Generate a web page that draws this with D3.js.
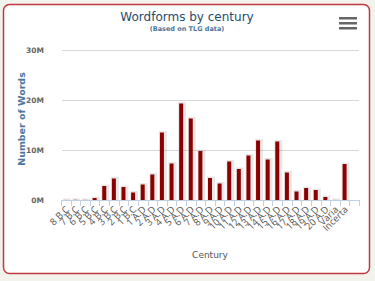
<!DOCTYPE html>
<html lang="en">
<head>
<meta charset="utf-8">
<title>Wordforms by century</title>
<script src="https://d3js.org/d3.v7.min.js"></script>
<style>
  html, body { margin: 0; padding: 0; background: #f3f3ee; }
  svg { display: block; font-family: "DejaVu Sans", sans-serif; }
</style>
</head>
<body>
<script>
// categories and values (millions of word forms)
var centuries = ["8 B.C", "7 B.C", "6 B.C", "5 B.C", "4 B.C", "3 B.C", "2 B.C", "1 B.C",
  "1 A.D", "2 A.D", "3 A.D", "4 A.D", "5 A.D", "6 A.D", "7 A.D", "8 A.D", "9 A.D", "10 A.D",
  "11 A.D", "12 A.D", "13 A.D", "14 A.D", "15 A.D", "16 A.D", "17 A.D", "18 A.D", "19 A.D",
  "20 A.D", "Varia", "Incerta"];
var words = [0.01, 0.04, 0.02, 0.4, 2.8, 4.3, 2.6, 1.5,
  3.1, 5.1, 13.5, 7.3, 19.3, 16.3, 9.8, 4.4, 3.3, 7.7,
  6.2, 8.9, 11.9, 8.1, 11.7, 5.5, 1.7, 2.4, 2.0,
  0.6, 0.01, 7.2];
var yTicks = [0, 10, 20, 30];

var W = 375, H = 281;
var pLeft = 61, pRight = 359, pTop = 50, pBottom = 200;
var step = (pRight - pLeft) / (centuries.length + 1); // one empty slot at the end

var svg = d3.select("body").append("svg").attr("width", W).attr("height", H);

// card
svg.append("rect")
  .attr("x", 3.5).attr("y", 4.5).attr("width", 366).attr("height", 269)
  .attr("rx", 6).attr("fill", "#fff").attr("stroke", "#c0393e").attr("stroke-width", 1.5);

var x = d3.scaleBand()
  .domain(centuries)
  .range([pLeft, pLeft + step * centuries.length]);

var y = d3.scaleLinear()
  .domain([0, 30])
  .range([pBottom, pTop]);

// grid lines
svg.append("g").selectAll("line")
  .data(yTicks.filter(function(d) { return d > 0; }))
  .enter().append("line")
  .attr("x1", pLeft + 1).attr("x2", pRight)
  .attr("y1", function(d) { return y(d) + 0.5; })
  .attr("y2", function(d) { return y(d) + 0.5; })
  .attr("stroke", "#d8d8d8").attr("stroke-width", 1);

// y labels
svg.append("g").selectAll("text")
  .data(yTicks)
  .enter().append("text")
  .attr("x", 44).attr("y", function(d) { return y(d) + 3; })
  .attr("text-anchor", "end")
  .attr("font-size", 7.5).attr("font-weight", "bold").attr("fill", "#666")
  .text(function(d) { return d + "M"; });

// bars with a soft shadow
var bw = 4;
var bars = svg.append("g");
bars.selectAll(".shadow")
  .data(words)
  .enter().append("rect")
  .attr("class", "shadow")
  .attr("x", function(d, i) { return x(centuries[i]) + x.bandwidth() / 2 - bw / 2 - 1; })
  .attr("y", function(d) { return y(d) - 1.5; })
  .attr("width", bw + 4)
  .attr("height", function(d) { return pBottom - y(d) + 1.5; })
  .attr("fill", "#000").attr("opacity", 0.09);
bars.selectAll(".bar")
  .data(words)
  .enter().append("rect")
  .attr("class", "bar")
  .attr("x", function(d, i) { return x(centuries[i]) + x.bandwidth() / 2 - bw / 2; })
  .attr("y", function(d) { return y(d); })
  .attr("width", bw)
  .attr("height", function(d) { return pBottom - y(d); })
  .attr("fill", "#8b0000");

// x axis line and ticks
var ax = svg.append("g");
ax.append("line")
  .attr("x1", pLeft).attr("x2", pRight)
  .attr("y1", pBottom + 0.5).attr("y2", pBottom + 0.5)
  .attr("stroke", "#c0d0e0");
ax.selectAll(".tick")
  .data(d3.range(centuries.length + 2))
  .enter().append("line")
  .attr("x1", function(i) { return Math.round(pLeft + i * step) + 0.5; })
  .attr("x2", function(i) { return Math.round(pLeft + i * step) + 0.5; })
  .attr("y1", pBottom).attr("y2", pBottom + 6)
  .attr("stroke", "#c0d0e0");

// rotated category labels
ax.selectAll(".lab")
  .data(centuries)
  .enter().append("text")
  .attr("transform", function(d) {
    return "translate(" + (x(d) + x.bandwidth() / 2 + 4) + "," + (pBottom + 10) + ") rotate(-45)";
  })
  .attr("text-anchor", "end")
  .attr("font-family", "'Open Sans', sans-serif")
  .attr("font-size", 9.5).attr("fill", "#555")
  .text(function(d) { return d; });

// titles
svg.append("text")
  .attr("x", 187).attr("y", 21)
  .attr("text-anchor", "middle")
  .attr("font-size", 12).attr("fill", "#274b6d")
  .text("Wordforms by century");
svg.append("text")
  .attr("x", 187).attr("y", 31)
  .attr("text-anchor", "middle")
  .attr("font-size", 6.5).attr("font-weight", "bold").attr("fill", "#4d759e")
  .text("(Based on TLG data)");

svg.append("text")
  .attr("transform", "translate(25," + ((pTop + pBottom) / 2 - 6) + ") rotate(-90)")
  .attr("text-anchor", "middle")
  .attr("font-size", 9.5).attr("font-weight", "bold").attr("fill", "#4d759e")
  .text("Number of Words");

svg.append("text")
  .attr("x", (pLeft + pRight) / 2).attr("y", 258)
  .attr("text-anchor", "middle")
  .attr("font-size", 9).attr("fill", "#555")
  .text("Century");

// menu icon
svg.append("g").selectAll("rect")
  .data([0, 1, 2])
  .enter().append("rect")
  .attr("x", 339).attr("y", function(d) { return 17 + d * 5; })
  .attr("width", 18).attr("height", 2.5)
  .attr("fill", "#666");
</script>
</body>
</html>
